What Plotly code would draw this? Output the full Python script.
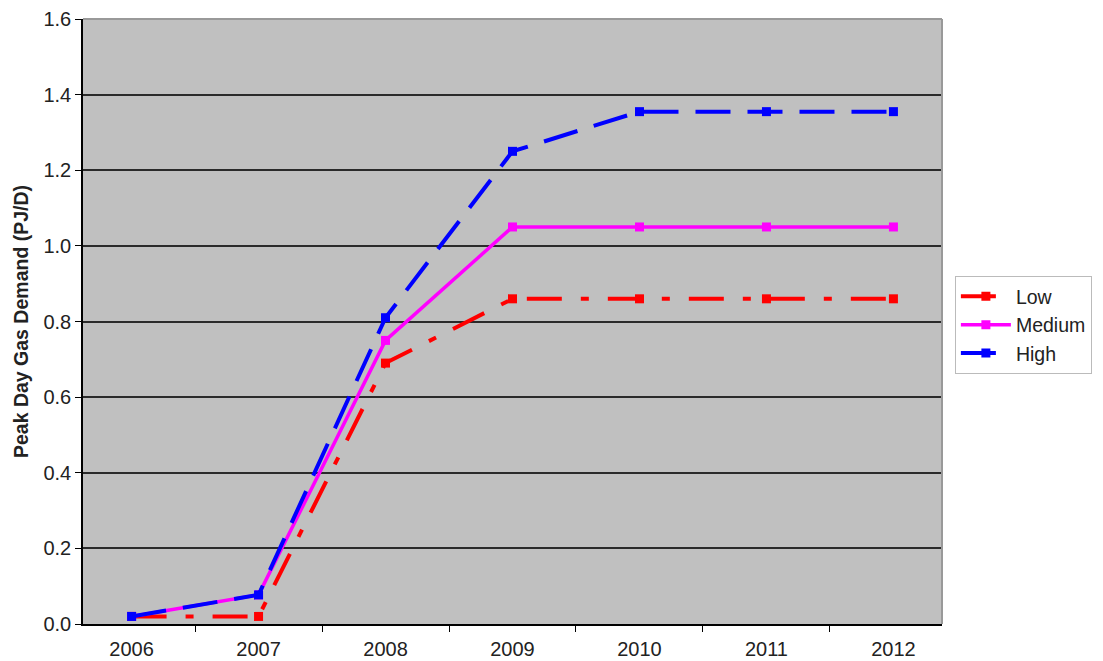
import plotly.graph_objects as go

years = ["2006", "2007", "2008", "2009", "2010", "2011", "2012"]
low = [0.02, 0.02, 0.69, 0.86, 0.86, 0.86, 0.86]
medium = [0.02, 0.077, 0.75, 1.05, 1.05, 1.05, 1.05]
high = [0.02, 0.077, 0.81, 1.25, 1.355, 1.355, 1.355]

series = [
    ("Low", low, "#FF0000", "35px,19px,8px,19px", 4),
    ("Medium", medium, "#FF00FF", "solid", 3.5),
    ("High", high, "#0000FF", "35px,17px", 4),
]

fig = go.Figure()
for name, vals, color, dash, w in series:
    fig.add_trace(go.Scatter(
        x=years, y=vals, name=name, mode="lines+markers",
        line=dict(color=color, width=w, dash=dash),
        marker=dict(symbol="square", size=9, color=color),
    ))

font = "Liberation Sans, Arial, sans-serif"
fig.update_layout(
    width=1095, height=653,
    margin=dict(l=75, r=150, t=11, b=37),
    paper_bgcolor="white",
    plot_bgcolor="#C0C0C0",
    font=dict(family=font, size=20, color="#222222"),
    showlegend=True,
    legend=dict(
        x=1.015, y=0.575, xanchor="left", yanchor="top",
        bordercolor="#BBBBBB", borderwidth=1, bgcolor="white",
        font=dict(size=19.5), tracegroupgap=0, itemwidth=50,
    ),
    xaxis=dict(
        type="category", tickson="boundaries",
        ticks="outside", ticklen=6, tickcolor="black",
        showline=True, linecolor="black", linewidth=1.5,
        mirror=False, showgrid=False, zeroline=False,
        tickfont=dict(size=20), automargin=False,
        ticklabelstandoff=6,
    ),
    yaxis=dict(
        range=[0, 1.6], dtick=0.2, tickformat=".1f",
        ticks="outside", ticklen=6, tickcolor="black",
        showline=True, linecolor="black", linewidth=1.5,
        showgrid=True, gridcolor="#2a2a2a", gridwidth=1.5,
        zeroline=False, automargin=False,
        title=dict(text="<b>Peak Day Gas Demand (PJ/D)</b>", font=dict(size=19.5), standoff=10),
        tickfont=dict(size=20),
    ),
    shapes=[
        dict(type="line", xref="paper", yref="paper", x0=0, x1=1, y0=1, y1=1,
             line=dict(color="#999999", width=2)),
        dict(type="line", xref="paper", yref="paper", x0=1, x1=1, y0=0, y1=1,
             line=dict(color="#999999", width=2)),
    ],
)

fig.write_html("out.html")
